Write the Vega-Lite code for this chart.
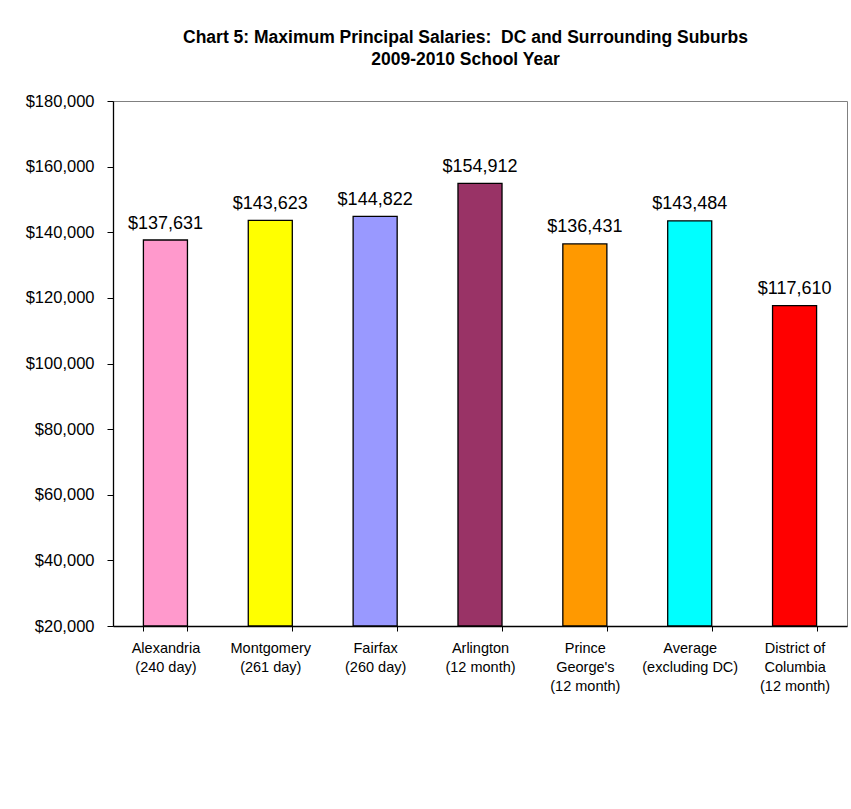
{
  "$schema": "https://vega.github.io/schema/vega-lite/v6.json",
  "width": 734,
  "height": 525,
  "autosize": "none",
  "padding": {"left": 113, "top": 101, "right": 4, "bottom": 183},
  "background": "white",
  "title": {
    "text": ["Chart 5: Maximum Principal Salaries:\u00a0 DC and Surrounding Suburbs", "2009-2010 School Year"],
    "font": "Liberation Sans",
    "fontSize": 17.5,
    "fontWeight": "bold",
    "color": "#000000",
    "anchor": "middle",
    "frame": "group",
    "dx": -14.5,
    "lineHeight": 22,
    "offset": 25
  },
  "config": {
    "view": {"stroke": "#808080", "strokeWidth": 1},
    "font": "Liberation Sans"
  },
  "data": {
    "values": [
      {"district": "Alexandria|(240 day)", "salary": 137631},
      {"district": "Montgomery|(261 day)", "salary": 143623},
      {"district": "Fairfax|(260 day)", "salary": 144822},
      {"district": "Arlington|(12 month)", "salary": 154912},
      {"district": "Prince|George's|(12 month)", "salary": 136431},
      {"district": "Average|(excluding DC)", "salary": 143484},
      {"district": "District of|Columbia|(12 month)", "salary": 117610}
    ]
  },
  "encoding": {
    "x": {
      "field": "district",
      "type": "nominal",
      "sort": null,
      "scale": {"paddingInner": 0.58, "paddingOuter": 0.29},
      "axis": {
        "title": null,
        "labelAngle": 0,
        "labelExpr": "split(datum.label, '|')",
        "labelFont": "Liberation Sans",
        "labelFontSize": 14.5,
        "labelColor": "#000000",
        "labelLineHeight": 19.3,
        "labelPadding": 10,
        "labelBaseline": "top",
        "tickBand": "extent",
        "tickSize": 5,
        "tickColor": "#000000",
        "domainColor": "#000000",
        "domainWidth": 1.3
      }
    },
    "y": {
      "field": "salary",
      "type": "quantitative",
      "scale": {"domain": [20000, 180000], "nice": false, "zero": false},
      "axis": {
        "title": null,
        "values": [20000, 40000, 60000, 80000, 100000, 120000, 140000, 160000, 180000],
        "format": "$,.0f",
        "grid": false,
        "labelFont": "Liberation Sans",
        "labelFontSize": 16.5,
        "labelColor": "#000000",
        "labelPadding": 13,
        "tickSize": 6,
        "tickColor": "#000000",
        "domainColor": "#000000",
        "domainWidth": 1.3
      }
    }
  },
  "layer": [
    {
      "mark": {"type": "bar", "stroke": "#000000", "strokeWidth": 1.3},
      "encoding": {
        "y2": {"datum": 20000},
        "color": {
          "field": "district",
          "type": "nominal",
          "sort": null,
          "legend": null,
          "scale": {
            "domain": ["Alexandria|(240 day)", "Montgomery|(261 day)", "Fairfax|(260 day)", "Arlington|(12 month)", "Prince|George's|(12 month)", "Average|(excluding DC)", "District of|Columbia|(12 month)"],
            "range": ["#FF99CC", "#FFFF00", "#9999FF", "#993366", "#FF9900", "#00FFFF", "#FF0000"]
          }
        }
      }
    },
    {
      "mark": {"type": "text", "font": "Liberation Sans", "fontSize": 18, "baseline": "alphabetic", "dy": -11.5, "color": "#000000"},
      "encoding": {
        "text": {"field": "salary", "type": "quantitative", "format": "$,.0f"}
      }
    }
  ]
}
